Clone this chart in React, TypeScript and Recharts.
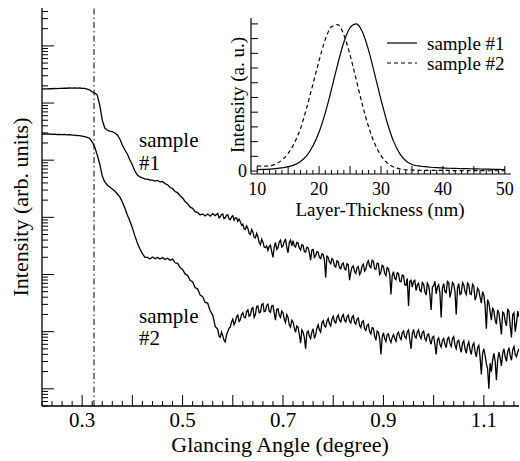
import React from 'react';
import { LineChart, Line, XAxis, YAxis, ReferenceLine } from 'recharts';

// main plot: reflectivity, log10 of intensity, one value every 0.005 degree from 0.22
const angleStart = 0.22;
const angleStep = 0.005;
const sample1Log = [
  6.245, 6.249, 6.247, 6.252, 6.250, 6.255, 6.253, 6.258, 6.256, 6.261,
  6.259, 6.263, 6.260, 6.264, 6.261, 6.263, 6.258, 6.256, 6.243, 6.231,
  6.193, 6.175, 6.140, 5.965, 5.703, 5.563, 5.528, 5.510, 5.502, 5.475,
  5.441, 5.371, 5.266, 5.178, 5.108, 5.003, 4.916, 4.811, 4.741, 4.706,
  4.692, 4.670, 4.668, 4.650, 4.652, 4.633, 4.645, 4.620, 4.627, 4.590,
  4.570, 4.522, 4.503, 4.452, 4.433, 4.378, 4.338, 4.278, 4.238, 4.178,
  4.158, 4.100, 4.082, 4.040, 4.060, 4.025, 4.058, 4.020, 4.065, 4.030,
  4.070, 4.010, 4.060, 3.990, 4.045, 3.960, 4.030, 3.990, 3.930, 3.925,
  3.880, 3.790, 3.810, 3.700, 3.745, 3.640, 3.660, 3.520, 3.570, 3.470,
  3.420, 3.510, 3.300, 3.560, 3.470, 3.600, 3.500, 3.610, 3.380, 3.600,
  3.590, 3.480, 3.550, 3.430, 3.510, 3.390, 3.470, 3.250, 3.440, 3.330,
  3.390, 3.280, 3.350, 2.950, 3.300, 3.190, 3.250, 3.130, 3.220, 3.100,
  3.200, 3.080, 3.170, 3.040, 3.150, 3.020, 3.140, 3.040, 3.180, 3.090,
  3.240, 3.120, 3.230, 3.090, 3.190, 3.040, 3.140, 2.980, 3.100, 2.650,
  3.050, 2.910, 3.020, 2.870, 2.980, 2.810, 2.450, 2.900, 2.880, 2.720,
  2.850, 2.700, 2.830, 2.640, 2.810, 2.380, 2.800, 2.660, 2.820, 2.250,
  2.840, 2.680, 2.860, 2.700, 2.830, 2.300, 2.840, 2.670, 2.820, 2.650,
  2.820, 2.650, 2.800, 2.620, 2.720, 2.500, 2.640, 2.050, 2.500, 2.200,
  2.360, 2.130, 2.330, 1.950, 2.320, 2.100, 2.350, 1.900, 2.330, 2.150,
  2.260,
];
const sample2Log = [
  5.456, 5.460, 5.455, 5.458, 5.451, 5.455, 5.449, 5.453, 5.447, 5.450,
  5.443, 5.446, 5.440, 5.438, 5.430, 5.430, 5.421, 5.413, 5.400, 5.380,
  5.318, 5.231, 5.091, 4.934, 4.724, 4.619, 4.566, 4.531, 4.496, 4.461,
  4.409, 4.357, 4.269, 4.164, 4.042, 3.937, 3.815, 3.675, 3.552, 3.447,
  3.365, 3.300, 3.300, 3.270, 3.305, 3.275, 3.300, 3.270, 3.295, 3.262,
  3.285, 3.250, 3.268, 3.205, 3.195, 3.120, 3.090, 3.010, 2.985, 2.900,
  2.870, 2.770, 2.745, 2.640, 2.610, 2.510, 2.500, 2.360, 2.290, 2.090,
  2.040, 1.900, 1.930, 1.820, 2.000, 2.080, 2.220, 2.170, 2.290, 2.210,
  2.330, 2.240, 2.380, 2.290, 2.420, 2.300, 2.450, 2.340, 2.490, 2.360,
  2.480, 2.340, 2.460, 2.200, 2.400, 2.250, 2.330, 2.160, 2.250, 2.080,
  2.170, 1.990, 2.080, 1.800, 1.990, 1.700, 2.010, 1.880, 2.050, 1.940,
  2.120, 1.990, 2.190, 2.080, 2.230, 2.100, 2.270, 2.150, 2.290, 2.170,
  2.300, 2.170, 2.290, 2.150, 2.280, 2.130, 2.240, 2.070, 2.190, 2.020,
  2.130, 1.960, 2.060, 1.850, 1.990, 1.600, 1.980, 1.830, 1.960, 1.810,
  1.950, 1.830, 1.990, 1.860, 2.010, 1.880, 2.030, 1.700, 2.040, 1.890,
  2.030, 1.880, 2.010, 1.840, 1.960, 1.780, 1.920, 1.600, 1.890, 1.730,
  1.880, 1.720, 1.900, 1.740, 1.910, 1.700, 1.850, 1.640, 1.840, 1.620,
  1.820, 1.600, 1.800, 1.560, 1.760, 1.250, 1.700, 1.440, 1.000, 1.300,
  1.620, 1.150, 1.640, 1.400, 1.700, 1.480, 1.720, 1.500, 1.740, 1.560,
  1.700,
];
// the noisy part is sampled twice as densely: extra readings halfway between the ones above
const midStart = 0.5725;
const sample1MidLog = [
  3.990, 4.050, 3.980, 4.040, 3.970, 4.010, 3.950, 3.990, 3.970, 3.860,
  3.800, 3.850, 3.720, 3.790, 3.650, 3.720, 3.560, 3.620, 3.480, 3.500,
  3.490, 3.400, 3.480, 3.440, 3.570, 3.480, 3.580, 3.480, 3.560, 3.500,
  3.500, 3.560, 3.460, 3.520, 3.400, 3.480, 3.380, 3.430, 3.300, 3.400,
  3.300, 3.360, 3.250, 3.320, 3.220, 3.280, 3.150, 3.240, 3.120, 3.180,
  3.100, 3.190, 2.900, 3.130, 3.050, 3.120, 3.000, 3.150, 3.060, 3.200,
  3.140, 3.250, 3.100, 3.200, 3.000, 3.160, 3.020, 3.120, 3.000, 2.980,
  2.930, 3.030, 2.880, 2.990, 2.820, 2.930, 2.880, 2.780, 2.900, 2.820,
  2.720, 2.860, 2.700, 2.850, 2.650, 2.780, 2.880, 2.780, 2.680, 2.760,
  2.700, 2.880, 2.600, 2.860, 2.700, 2.760, 2.650, 2.860, 2.700, 2.850,
  2.660, 2.830, 2.550, 2.760, 2.600, 2.700, 2.450, 2.560, 2.350, 2.420,
  2.200, 2.380, 2.150, 2.340, 2.180, 2.400, 2.100, 2.300, 2.000, 2.360,
];
const sample2MidLog = [
  1.920, 1.990, 1.850, 1.940, 2.060, 2.170, 2.120, 2.260, 2.180, 2.300,
  2.250, 2.350, 2.270, 2.400, 2.250, 2.440, 2.330, 2.470, 2.350, 2.460,
  2.360, 2.450, 2.330, 2.390, 2.290, 2.360, 2.220, 2.300, 2.120, 2.200,
  2.060, 2.100, 1.950, 2.030, 1.900, 1.980, 1.920, 1.990, 1.880, 2.060,
  2.030, 2.150, 2.100, 2.180, 2.140, 2.220, 2.180, 2.250, 2.200, 2.260,
  2.200, 2.260, 2.180, 2.250, 2.160, 2.220, 2.110, 2.170, 2.050, 2.110,
  2.000, 2.070, 1.920, 2.010, 1.880, 1.900, 1.880, 1.950, 1.860, 1.900,
  1.880, 1.960, 1.900, 1.980, 1.910, 2.000, 1.860, 1.960, 1.920, 1.990,
  1.920, 1.990, 1.880, 1.940, 1.850, 1.900, 1.780, 1.850, 1.780, 1.850,
  1.780, 1.870, 1.790, 1.880, 1.760, 1.830, 1.720, 1.800, 1.700, 1.760,
  1.680, 1.760, 1.650, 1.720, 1.550, 1.620, 1.580, 1.350, 1.450, 1.500,
  1.480, 1.500, 1.540, 1.620, 1.560, 1.650, 1.580, 1.680, 1.600, 1.650,
];
const criticalAngle = 0.3236;
const angleLabels = [0.3, 0.5, 0.7, 0.9, 1.1];

// inset: layer thickness distribution
const thickness = [
  10, 11, 12, 13, 14, 15, 16, 17, 18, 19, 20, 21, 22, 23, 24, 25, 26, 27, 28, 29,
  30, 31, 32, 33, 34, 35, 36, 37, 38, 39, 40, 41, 42, 43, 44, 45, 46, 47, 48, 49, 50,
];
const dist1 = [
  0.010, 0.011, 0.013, 0.016, 0.021, 0.030, 0.042, 0.065, 0.105, 0.170,
  0.265, 0.395, 0.555, 0.725, 0.875, 0.975, 1.000, 0.945, 0.820, 0.655,
  0.485, 0.330, 0.205, 0.120, 0.070, 0.045, 0.035, 0.030, 0.026, 0.023,
  0.021, 0.019, 0.018, 0.017, 0.016, 0.015, 0.014, 0.013, 0.012, 0.011, 0.010,
];
const dist2 = [
  0.036, 0.033, 0.035, 0.048, 0.075, 0.120, 0.190, 0.290, 0.430, 0.590,
  0.750, 0.895, 0.980, 0.995, 0.925, 0.790, 0.620, 0.450, 0.300, 0.185,
  0.105, 0.055, 0.028, 0.015, 0.009, 0.007, 0.006, 0.005, 0.005, 0.004,
  0.004, 0.004, 0.003, 0.003, 0.003, 0.003, 0.003, 0.002, 0.002, 0.002, 0.002,
];
const thicknessLabels = [10, 20, 30, 40, 50];

const FONT = "'Liberation Serif', 'Times New Roman', Tinos, 'DejaVu Serif', serif";
const serif = { fontFamily: FONT };

const mainData = [
  ...sample1Log.map((v, i) => ({
    angle: +(angleStart + i * angleStep).toFixed(4),
    s1: Math.pow(10, v),
    s2: Math.pow(10, sample2Log[i]),
  })),
  ...sample1MidLog.map((v, i) => ({
    angle: +(midStart + i * angleStep).toFixed(4),
    s1: Math.pow(10, v),
    s2: Math.pow(10, sample2MidLog[i]),
  })),
].sort((a, b) => a.angle - b.angle);
const insetData = thickness.map((t, i) => ({ t, d1: dist1[i], d2: dist2[i] }));

const angleTicks = Array.from({ length: 48 }, (_, i) => +(0.22 + 0.02 * i).toFixed(2));
const logTicks: number[] = [];
for (let k = 0; k <= 7; k++) {
  for (let m = 1; m <= 9; m++) {
    const v = m * Math.pow(10, k);
    if (v >= 5 && v <= 4.6e7) logTicks.push(v);
  }
}
const insetYTicks = [0, 0.1, 0.2, 0.3, 0.4, 0.5, 0.6, 0.7, 0.8, 0.9, 1.0];

const near = (a: number, b: number) => Math.abs(a - b) < 1e-6;
const isDecade = (v: number) => near(Math.log10(v), Math.round(Math.log10(v)));

const AngleTick = ({ x, y, payload, top }: any) => {
  const v = payload.value;
  const major = near(v * 10, Math.round(v * 10));
  const len = major ? 11 : 5;
  const dir = top ? 1 : -1;
  const show = !top && angleLabels.some((t) => near(t, v));
  return (
    <g>
      <line x1={x} x2={x} y1={y} y2={y + dir * len} stroke="#000" />
      {show && (
        <text x={x} y={y + 14} textAnchor="middle" dominantBaseline="central" fontSize={21} style={serif}>
          {v.toFixed(1)}
        </text>
      )}
    </g>
  );
};

const LogTick = ({ x, y, payload, right }: any) => {
  const len = isDecade(payload.value) ? 12 : 6;
  const dir = right ? -1 : 1;
  return <line x1={x} x2={x + dir * len} y1={y} y2={y} stroke="#000" />;
};

const ThicknessTick = ({ x, y, payload }: any) => {
  const v = payload.value;
  const len = v % 5 === 0 ? 8 : 4;
  return (
    <g>
      <line x1={x} x2={x} y1={y} y2={y - len} stroke="#000" />
      {thicknessLabels.includes(v) && (
        <text x={x} y={y + 15} textAnchor="middle" dominantBaseline="central" fontSize={18} style={serif}>
          {v}
        </text>
      )}
    </g>
  );
};

const InsetYTick = ({ x, y, payload }: any) => (
  <g>
    <line x1={x} x2={x + 7} y1={y} y2={y} stroke="#000" />
    {payload.value === 0 && (
      <text x={x - 4} y={y} textAnchor="end" dominantBaseline="central" fontSize={18} style={serif}>
        0
      </text>
    )}
  </g>
);

export default function App() {
  return (
    <div style={{ position: 'absolute', left: 0, top: 0, width: 520, height: 461, background: '#fff', ...serif }}>
      <LineChart width={520} height={461} data={mainData} margin={{ top: 8, right: 1, bottom: 0, left: 0 }}>
        <XAxis
          xAxisId="b"
          dataKey="angle"
          type="number"
          domain={[0.22, 1.17]}
          allowDataOverflow
          ticks={angleTicks}
          interval={0}
          height={55}
          tickSize={0}
          tickMargin={0}
          tickLine={false}
          axisLine={{ stroke: '#000', strokeWidth: 1.3 }}
          tick={<AngleTick />}
        />
        <XAxis
          xAxisId="t"
          orientation="top"
          type="number"
          domain={[0.22, 1.17]}
          allowDataOverflow
          ticks={angleTicks}
          interval={0}
          height={0}
          tickSize={0}
          tickMargin={0}
          tickLine={false}
          axisLine={{ stroke: '#000', strokeWidth: 1.3 }}
          tick={<AngleTick top />}
        />
        <YAxis
          yAxisId="l"
          scale="log"
          domain={[5, 4.6e7]}
          allowDataOverflow
          ticks={logTicks}
          interval={0}
          width={42}
          tickSize={0}
          tickMargin={0}
          tickLine={false}
          axisLine={{ stroke: '#000', strokeWidth: 1.3 }}
          tick={<LogTick />}
        />
        <YAxis
          yAxisId="r"
          orientation="right"
          scale="log"
          domain={[5, 4.6e7]}
          allowDataOverflow
          ticks={logTicks}
          interval={0}
          width={0}
          tickSize={0}
          tickMargin={0}
          tickLine={false}
          axisLine={{ stroke: '#000', strokeWidth: 1.3 }}
          tick={<LogTick right />}
        />
        <ReferenceLine xAxisId="b" yAxisId="l" x={criticalAngle} stroke="#000" strokeDasharray="6 3 1.5 3" />
        <Line xAxisId="b" yAxisId="l" dataKey="s1" type="linear" stroke="#000" strokeWidth={1.3} dot={false} isAnimationActive={false} />
        <Line xAxisId="b" yAxisId="l" dataKey="s2" type="linear" stroke="#000" strokeWidth={1.3} dot={false} isAnimationActive={false} />
      </LineChart>

      <div style={{ position: 'absolute', left: 200, top: 0 }}>
        <LineChart width={320} height={230} data={insetData} margin={{ top: 18, right: 9, bottom: 0, left: 0 }}>
          <XAxis
            dataKey="t"
            type="number"
            domain={[9, 51]}
            allowDataOverflow
            ticks={thickness}
            interval={0}
            height={56}
            tickSize={0}
            tickMargin={0}
            tickLine={false}
            axisLine={{ stroke: '#000', strokeWidth: 1.2 }}
            tick={<ThicknessTick />}
          />
          <YAxis
            type="number"
            domain={[-0.02, 1.04]}
            allowDataOverflow
            ticks={insetYTicks}
            interval={0}
            width={51}
            tickSize={0}
            tickMargin={0}
            tickLine={false}
            axisLine={{ stroke: '#000', strokeWidth: 1.2 }}
            tick={<InsetYTick />}
          />
          <Line dataKey="d1" type="monotone" stroke="#000" strokeWidth={1.2} dot={false} isAnimationActive={false} />
          <Line dataKey="d2" type="monotone" stroke="#000" strokeWidth={1.2} strokeDasharray="4 3" dot={false} isAnimationActive={false} />
        </LineChart>
      </div>

      <svg width={520} height={461} style={{ position: 'absolute', left: 0, top: 0, pointerEvents: 'none', ...serif }}>
        <text x={280} y={444} textAnchor="middle" dominantBaseline="central" fontSize={22} style={serif}>
          Glancing Angle (degree)
        </text>
        <text x={20} y={207} textAnchor="middle" dominantBaseline="central" fontSize={22} transform="rotate(-90 20 207)" style={serif}>
          Intensity (arb. units)
        </text>
        <text x={139} y={140} dominantBaseline="central" fontSize={21} style={serif}>sample</text>
        <text x={139} y={163} dominantBaseline="central" fontSize={21} style={serif}>#1</text>
        <text x={139} y={316} dominantBaseline="central" fontSize={21} style={serif}>sample</text>
        <text x={139} y={338} dominantBaseline="central" fontSize={21} style={serif}>#2</text>

        <text x={380} y={209} textAnchor="middle" dominantBaseline="central" fontSize={19} style={serif}>
          Layer-Thickness (nm)
        </text>
        <text x={237} y={95} textAnchor="middle" dominantBaseline="central" fontSize={19} transform="rotate(-90 237 95)" style={serif}>
          Intensity (a. u.)
        </text>
        <line x1={387} x2={417} y1={43} y2={43} stroke="#000" strokeWidth={1.2} />
        <text x={427} y={43} dominantBaseline="central" fontSize={19} style={serif}>sample #1</text>
        <line x1={387} x2={417} y1={63} y2={63} stroke="#000" strokeWidth={1.2} strokeDasharray="4 3" />
        <text x={427} y={63} dominantBaseline="central" fontSize={19} style={serif}>sample #2</text>
      </svg>
    </div>
  );
}
